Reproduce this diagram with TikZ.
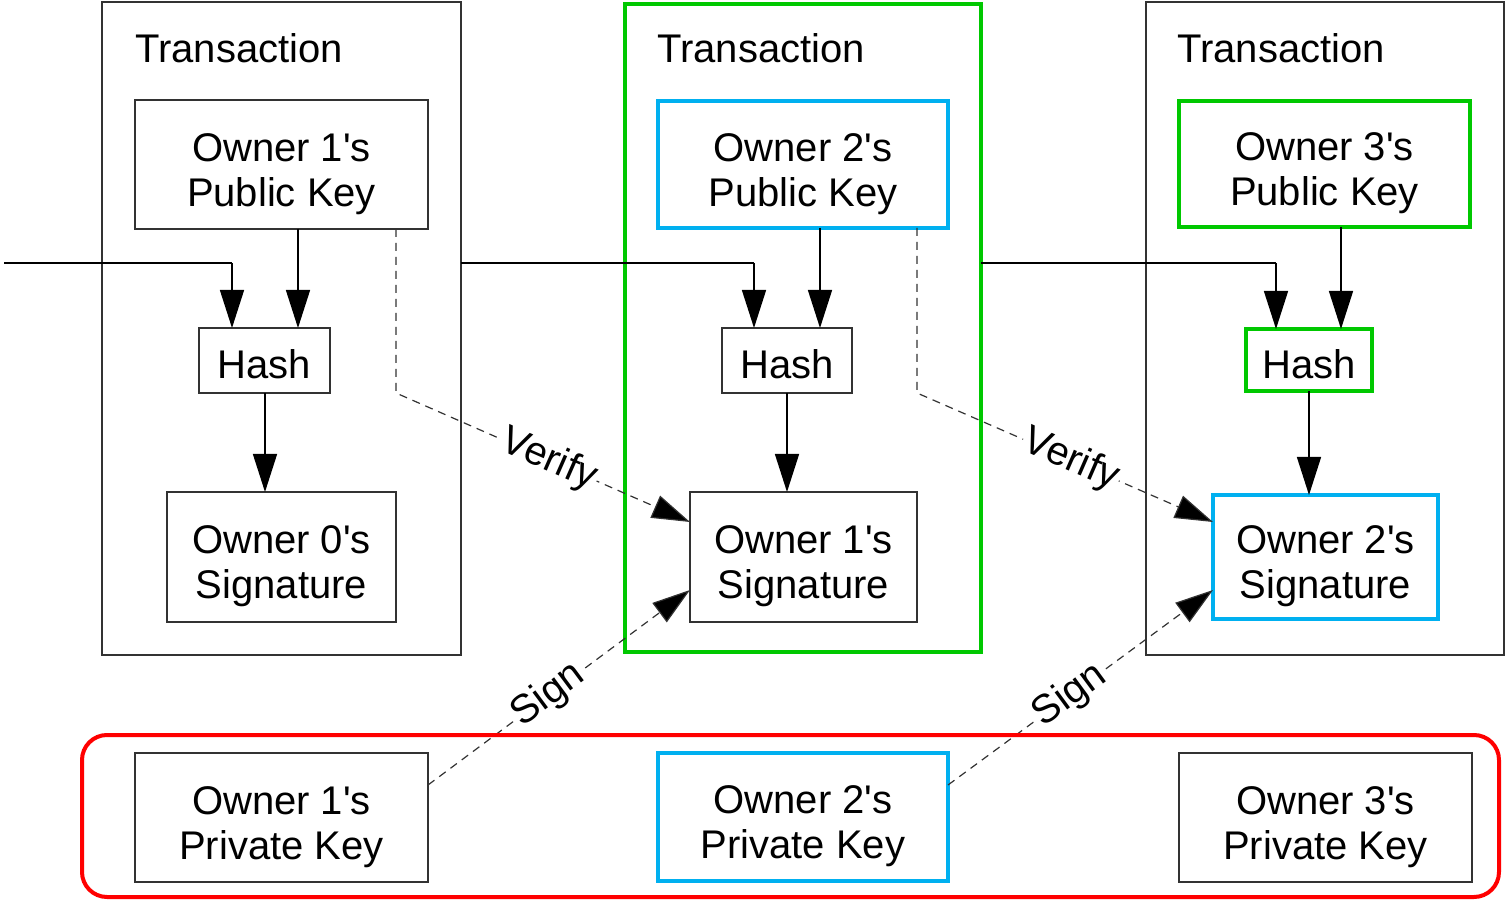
\documentclass[tikz,border=0pt]{standalone}
\usepackage{fontspec}
\setmainfont{Liberation Sans}
\usetikzlibrary{arrows.meta,calc}
\definecolor{bgreen}{RGB}{0,200,0}
\definecolor{bblue}{RGB}{0,176,240}
\definecolor{bred}{RGB}{255,0,0}
\definecolor{lgray}{RGB}{50,50,50}
\newcommand\ap{\textquotesingle}
\newcommand\twostrut{\rule{0pt}{23.5pt}}
\newcommand\onestrut{\rule{0pt}{18.5pt}}
\tikzset{
  box/.style={draw=lgray, line width=0.75pt, inner sep=0pt, outer sep=0pt, align=center,
    font=\fontsize{20pt}{22.5pt}\selectfont},
  gbox/.style={box, draw=bgreen, line width=2pt},
  bbox/.style={box, draw=bblue, line width=2pt},
  title/.style={inner sep=0pt, anchor=west, font=\fontsize{20pt}{22.5pt}\selectfont},
  arr/.style={draw=black, line width=0.75pt, -{Triangle[length=19pt,width=12pt]}},
  plain/.style={draw=black, line width=0.75pt},
  darr/.style={draw=lgray, line width=0.6pt, dash pattern=on 4pt off 3pt, -{Triangle[length=19pt,width=12pt,fill=black]}},
  lab/.style={fill=white, sloped, inner sep=1pt, font=\fontsize{20pt}{22.5pt}\selectfont}
}
\begin{document}
\begin{tikzpicture}[x=0.5pt,y=-0.5pt]
\useasboundingbox (0,0) rectangle (1506,903);
% outer transaction boxes
\node[box, minimum width=179.5pt, minimum height=326.5pt] (t1) at (281.5,328.5) {};
\node[gbox, minimum width=178pt, minimum height=324pt] (t2) at (803,328) {};
\node[box, minimum width=179pt, minimum height=326.5pt] (t3) at (1325,328.5) {};
\node[title] (tt1) at (135,48) {Transaction};
\node[title] (tt2) at (657,48) {Transaction};
\node[title] (tt3) at (1177,48) {Transaction};
% public keys
\node[box, minimum width=146.5pt, minimum height=64.5pt] (pk1) at (281.5,164.5) {\twostrut Owner 1\ap s\\Public Key};
\node[bbox, minimum width=145pt, minimum height=63.5pt] (pk2) at (803,164.5) {\twostrut Owner 2\ap s\\Public Key};
\node[gbox, minimum width=145.5pt, minimum height=63pt] (pk3) at (1324.5,164) {\twostrut Owner 3\ap s\\Public Key};
% hashes
\node[box, minimum width=65.5pt, minimum height=32.5pt] (h1) at (264.5,360.5) {\onestrut Hash};
\node[box, minimum width=65pt, minimum height=32.5pt] (h2) at (787,360.5) {\onestrut Hash};
\node[gbox, minimum width=63pt, minimum height=31pt] (h3) at (1309,360) {\onestrut Hash};
% signatures
\node[box, minimum width=114.5pt, minimum height=65pt] (s1) at (281.5,557) {\twostrut Owner 0\ap s\\Signature};
\node[box, minimum width=113.5pt, minimum height=65pt] (s2) at (803.5,557) {\twostrut Owner 1\ap s\\Signature};
\node[bbox, minimum width=112.5pt, minimum height=62pt] (s3) at (1325.5,557) {\twostrut Owner 2\ap s\\Signature};
% private keys
\node[box, minimum width=146.5pt, minimum height=64.5pt] (pr1) at (281.5,817.5) {\twostrut Owner 1\ap s\\Private Key};
\node[bbox, minimum width=145pt, minimum height=64pt] (pr2) at (803,817) {\twostrut Owner 2\ap s\\Private Key};
\node[box, minimum width=146.5pt, minimum height=64.5pt] (pr3) at (1325.5,817.5) {\twostrut Owner 3\ap s\\Private Key};
% helper coordinates
\coordinate (y263) at (0,263);
\coordinate (in0) at (4,263);
\coordinate (xa1) at (232,0);
\coordinate (xa2) at (754,0);
\coordinate (xa3) at (1276,0);
\coordinate (xb1) at (298,0);
\coordinate (xb2) at (820,0);
\coordinate (xb3) at (1341,0);
\coordinate (xh1) at (265,0);
\coordinate (xh2) at (787,0);
\coordinate (xh3) at (1309,0);
\coordinate (xv1) at (396,0);
\coordinate (xv2) at (917,0);
\coordinate (y393) at (0,393);
\coordinate (y522) at (0,522);
\coordinate (y590) at (0,590);
\coordinate (y785) at (0,785);
% public key -> hash
\draw[arr] (xb1 |- pk1.south) -- (xb1 |- h1.north);
\draw[arr] (xb2 |- pk2.south) -- (xb2 |- h2.north);
\draw[arr] (xb3 |- pk3.south) -- (xb3 |- h3.north);
% previous transaction -> hash
\draw[plain] (in0) -- (xa1 |- y263);
\draw[arr] (xa1 |- y263) -- (xa1 |- h1.north);
\draw[plain] (t1.east |- y263) -- (xa2 |- y263);
\draw[arr] (xa2 |- y263) -- (xa2 |- h2.north);
\draw[plain] (t2.east |- y263) -- (xa3 |- y263);
\draw[arr] (xa3 |- y263) -- (xa3 |- h3.north);
% hash -> signature
\draw[arr] (xh1 |- h1.south) -- (xh1 |- s1.north);
\draw[arr] (xh2 |- h2.south) -- (xh2 |- s2.north);
\draw[arr] (xh3 |- h3.south) -- (xh3 |- s3.north);
% verify
\draw[darr] (xv1 |- pk1.south) -- (xv1 |- y393) -- node[lab, pos=0.52] {Verify} (s2.west |- y522);
\draw[darr] (xv2 |- pk2.south) -- (xv2 |- y393) -- node[lab, pos=0.52] {Verify} (s3.west |- y522);
% sign
\draw[darr] (pr1.east |- y785) -- node[lab, pos=0.46] {Sign} (s2.west |- y590);
\draw[darr] (pr2.east |- y785) -- node[lab, pos=0.46] {Sign} (s3.west |- y590);
% private key group frame (drawn last, over the label fills)
\node[draw=bred, line width=2pt, rounded corners=12.5pt, minimum width=708.5pt, minimum height=81pt, inner sep=0pt] (priv) at (790.5,816) {};
\end{tikzpicture}
\end{document}
